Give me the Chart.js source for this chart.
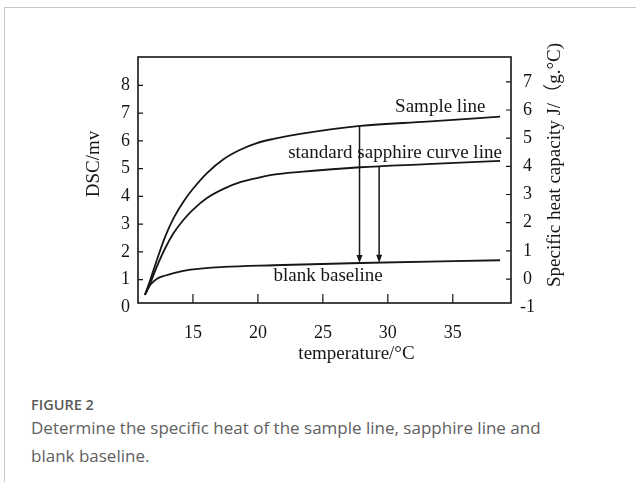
<!DOCTYPE html>
<html>
<head>
<meta charset="utf-8">
<script src="https://cdn.jsdelivr.net/npm/chart.js@4.4.0/dist/chart.umd.min.js"></script>
<style>
    html, body { margin: 0; padding: 0; background: #fff; }
    body { width: 636px; height: 482px; position: relative; overflow: hidden; }
    .card { position: absolute; left: 4px; top: 7px; right: -2px; bottom: -2px; border-left: 1px solid #c8c8c8; border-top: 1px solid #c8c8c8; }
    #wrap { position: absolute; left: 0; top: 0; width: 636px; height: 380px; }
    .fig-label { position: absolute; left: 31px; top: 395px; font: 600 14.5px 'Open Sans', sans-serif; color: #5a5a5a; }
    .fig-caption { position: absolute; left: 31px; top: 414px; width: 600px; font: 17px/28px 'Open Sans', sans-serif; color: #606060; }
</style>
</head>
<body>
<div class="card"></div>
<div id="wrap"><canvas id="dscChart"></canvas></div>
<div class="fig-label">FIGURE 2</div>
<div class="fig-caption">Determine the specific heat of the sample line, sapphire line and<br>blank baseline.</div>

<script>
// Data (temperature in °C, DSC in mV)
const curveTemp = [11.3, 11.72, 12.23, 12.87, 13.51, 14.28, 15.05, 16.08, 17.35, 18.64, 19.92, 21.2, 23.25, 27.87, 33.0, 38.64];
const sampleDsc = [0.45, 1.0, 1.72, 2.56, 3.22, 3.82, 4.30, 4.84, 5.34, 5.68, 5.92, 6.07, 6.25, 6.54, 6.69, 6.87];
const sapphireDsc = [0.45, 0.88, 1.48, 2.14, 2.68, 3.16, 3.54, 3.94, 4.27, 4.51, 4.66, 4.78, 4.88, 5.05, 5.16, 5.28];

const baselineTemp = [11.3, 11.72, 12.23, 12.87, 13.51, 14.8, 17.35, 21.2, 27.87, 38.64];
const baselineDsc = [0.45, 0.82, 1.03, 1.15, 1.24, 1.36, 1.46, 1.52, 1.60, 1.70];

// Vertical arrows: sample -> baseline, sapphire -> baseline
const arrowTemp = [27.82, 29.33];
const arrowFrom = [6.54, 5.08];
const arrowTo = [1.60, 1.61];

const xTicks = [15, 20, 25, 30, 35];
const dscTicks = [0, 1, 2, 3, 4, 5, 6, 7, 8];
const cpTicks = [-1, 0, 1, 2, 3, 4, 5, 6, 7];

const curveLabels = ['Sample line', 'standard sapphire curve line', 'blank baseline'];
const axisTitles = { x: 'temperature/°C', y: 'DSC/mv', y2: 'Specific heat capacity J/（g.°C)' };

const ink = '#161616';
const serif = "'Liberation Serif', 'Times New Roman', 'Noto Sans CJK SC', serif";

function toPoints(xs, ys) {
    return xs.map((x, i) => ({ x: x, y: ys[i] }));
}

function curve(data) {
    return {
        data: data,
        borderColor: ink,
        borderWidth: 1.8,
        pointRadius: 0,
        fill: false,
        cubicInterpolationMode: 'monotone'
    };
}

// tick marks pointing into the plot, frame, arrows, labels and titles
const figureDecor = {
    id: 'figureDecor',
    beforeDatasetsDraw(chart) {
        const { ctx, scales } = chart;
        ctx.save();
        ctx.fillStyle = ink;
        ctx.font = '19px ' + serif;
        ctx.textBaseline = 'alphabetic';
        ctx.textAlign = 'left';
        const spots = [[30.56, 7.05], [22.33, 5.38], [21.2, 0.94]];
        curveLabels.forEach((txt, i) => {
            ctx.fillText(txt, scales.x.getPixelForValue(spots[i][0]), scales.y.getPixelForValue(spots[i][1]));
        });
        ctx.restore();
    },
    afterDraw(chart) {
        const { ctx, chartArea: a, scales } = chart;
        ctx.save();
        ctx.strokeStyle = ink;
        ctx.lineWidth = 1.2;
        ctx.beginPath();
        scales.x.ticks.forEach(t => {
            const px = scales.x.getPixelForValue(t.value);
            if (px <= a.left + 1 || px >= a.right - 1) return;
            ctx.moveTo(px, a.bottom);
            ctx.lineTo(px, a.bottom - 9);
        });
        scales.y.ticks.forEach(t => {
            const py = scales.y.getPixelForValue(t.value);
            if (py <= a.top + 1 || py >= a.bottom - 1) return;
            ctx.moveTo(a.left, py);
            ctx.lineTo(a.left + 5, py);
        });
        scales.y2.ticks.forEach(t => {
            const py = scales.y2.getPixelForValue(t.value);
            if (py <= a.top + 1 || py >= a.bottom - 1) return;
            ctx.moveTo(a.right, py);
            ctx.lineTo(a.right - 5, py);
        });
        ctx.stroke();

        ctx.lineWidth = 1.6;
        ctx.strokeRect(a.left, a.top, a.right - a.left, a.bottom - a.top);

        // arrows
        ctx.lineWidth = 1.5;
        ctx.fillStyle = ink;
        arrowTemp.forEach((t, i) => {
            const px = scales.x.getPixelForValue(t);
            const y0 = scales.y.getPixelForValue(arrowFrom[i]);
            const y1 = scales.y.getPixelForValue(arrowTo[i]);
            ctx.beginPath();
            ctx.moveTo(px, y0);
            ctx.lineTo(px, y1 - 6);
            ctx.stroke();
            ctx.beginPath();
            ctx.moveTo(px - 3, y1 - 8);
            ctx.lineTo(px + 3, y1 - 8);
            ctx.lineTo(px, y1);
            ctx.closePath();
            ctx.fill();
        });

        // axis titles
        ctx.font = '19px ' + serif;
        ctx.textAlign = 'center';
        ctx.textBaseline = 'middle';
        const midY = (a.top + a.bottom) / 2;
        ctx.fillText(axisTitles.x, (a.left + a.right) / 2 + 32, a.bottom + 51);

        ctx.save();
        ctx.translate(a.left - 44, midY - 16);
        ctx.rotate(-Math.PI / 2);
        ctx.fillText(axisTitles.y, 0, 0);
        ctx.restore();

        ctx.save();
        ctx.translate(a.right + 44, midY - 15);
        ctx.rotate(-Math.PI / 2);
        ctx.fillText(axisTitles.y2, 0, 0);
        ctx.restore();

        ctx.restore();
    }
};

const tickFont = { family: serif, size: 18 };

new Chart(document.getElementById('dscChart'), {
    type: 'line',
    data: {
        datasets: [
            curve(toPoints(curveTemp, sampleDsc)),
            curve(toPoints(curveTemp, sapphireDsc)),
            curve(toPoints(baselineTemp, baselineDsc))
        ]
    },
    options: {
        responsive: true,
        maintainAspectRatio: false,
        animation: false,
        layout: { padding: { top: 57, left: 0, right: 0, bottom: 0 } },
        plugins: { legend: { display: false }, tooltip: { enabled: false } },
        scales: {
            x: {
                type: 'linear',
                position: 'bottom',
                min: 10.77,
                max: 39.48,
                afterBuildTicks: s => { s.ticks = xTicks.map(v => ({ value: v })); },
                afterFit: s => { s.height = 77; },
                grid: { drawOnChartArea: false, drawTicks: false },
                border: { display: false },
                ticks: { font: tickFont, color: ink, padding: 19, autoSkip: false, maxRotation: 0 }
            },
            y: {
                type: 'linear',
                position: 'left',
                min: 0.16,
                max: 9.02,
                afterBuildTicks: s => { s.ticks = dscTicks.map(v => ({ value: v })); },
                afterFit: s => { s.width = 138; },
                grid: { drawOnChartArea: false, drawTicks: false },
                border: { display: false },
                ticks: { font: tickFont, color: ink, padding: 8, autoSkip: false }
            },
            y2: {
                type: 'linear',
                position: 'right',
                min: -0.85,
                max: 7.88,
                afterBuildTicks: s => { s.ticks = cpTicks.map(v => ({ value: v })); },
                afterFit: s => { s.width = 125; },
                grid: { drawOnChartArea: false, drawTicks: false },
                border: { display: false },
                ticks: { font: tickFont, color: ink, padding: 9, autoSkip: false, crossAlign: 'center' }
            }
        }
    },
    plugins: [figureDecor]
});
</script>
</body>
</html>
